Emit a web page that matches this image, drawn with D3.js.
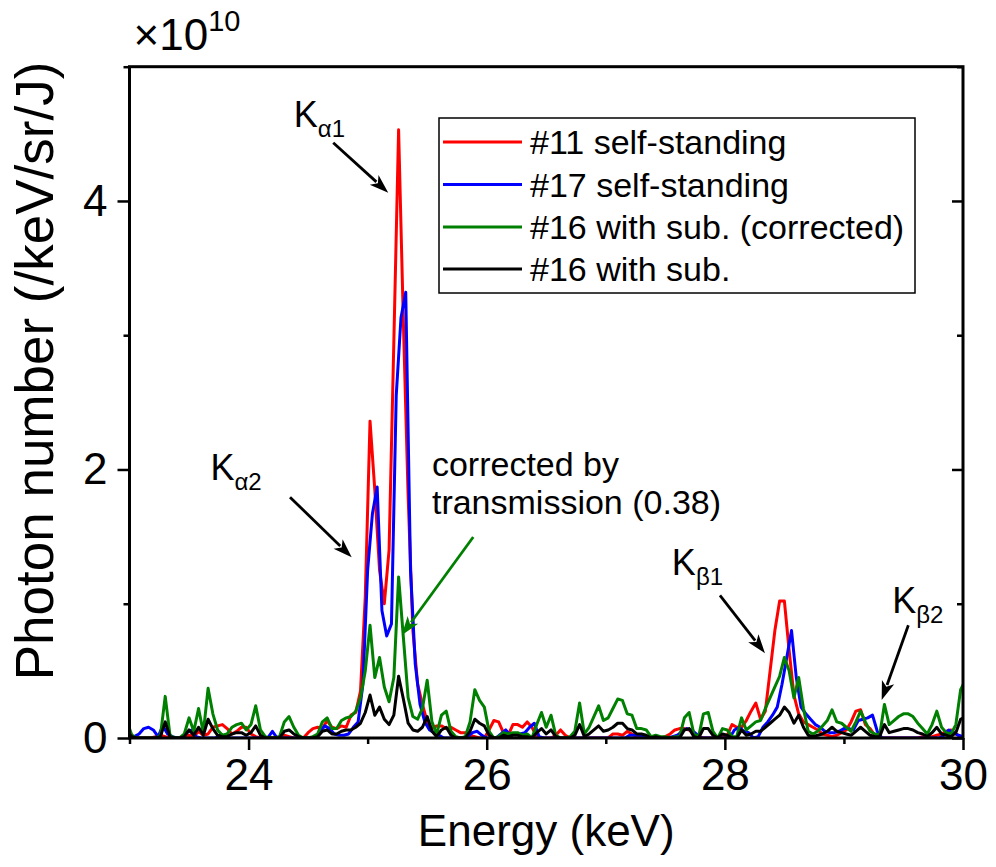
<!DOCTYPE html>
<html>
<head>
<meta charset="utf-8">
<script src="https://cdn.jsdelivr.net/npm/d3@7/dist/d3.min.js"></script>
<style>
  body { margin: 0; background: #fff; }
  svg { display: block; }
  text { font-family: "Liberation Sans", Arial, Helvetica, sans-serif; fill: #000; }
</style>
</head>
<body>
<svg id="chart" width="996" height="867"></svg>
<script>
// Detector channels: 0.04 keV bins. Spectrum #17 was binned 0.02 keV higher.
const channelStep = 0.04;
const channelStart = 22.98;
const channelStartS17 = 23.00;

// Photon number (x1e10 /keV/sr/J), one value per channel
const s11 = [
  0.03, 0.02, 0, 0, 0, 0, 0.01, 0.02, 0.01, 0, 0,
  0, 0.01, 0.02, 0.01, 0.05, 0.02, 0.03, 0.08, 0.09, 0.10,
  0.07, 0.03, 0.05, 0.08, 0.08, 0.03, 0.01, 0, 0, 0,
  0, 0.01, 0.02, 0.01, 0, 0, 0, 0.04, 0.07, 0.08,
  0.07, 0.13, 0.08, 0.07, 0.09, 0.08, 0.17, 0.19, 0.35, 1.05,
  2.36, 1.85, 1.25, 1.00, 1.40, 2.95, 4.53, 3.10, 1.80, 0.80,
  0.40, 0.25, 0.12, 0.07, 0.09, 0.09, 0.07, 0.08, 0.06, 0.04,
  0.04, 0.02, 0.01, 0, 0, 0.06, 0.13, 0.12, 0.04, 0.02,
  0.10, 0.10, 0.08, 0.12, 0.08, 0.01, 0, 0, 0, 0.02,
  0.06, 0.02, 0, 0, 0, 0, 0, 0, 0, 0,
  0, 0.03, 0.03, 0.02, 0.05, 0.03, 0.01, 0, 0, 0.01,
  0.01, 0, 0.01, 0.03, 0.06, 0.07, 0.07, 0.06, 0.03, 0.01,
  0, 0, 0, 0, 0.01, 0.02, 0.10, 0.08, 0.08, 0.13,
  0.20, 0.26, 0.14, 0.20, 0.50, 0.80, 1.02, 1.02, 0.65, 0.32,
  0.18, 0.12, 0.10, 0.08, 0.06, 0.03, 0.02, 0.01, 0.02, 0.04,
  0.06, 0.12, 0.20, 0.21, 0.10, 0.07, 0.02, 0, 0, 0,
  0, 0, 0, 0, 0, 0, 0.01, 0.01, 0.01, 0.02,
  0.03, 0.05, 0.06, 0.03, 0.01, 0
];

const s17 = [
  0, 0.01, 0.03, 0.07, 0.08, 0.06, 0.01, 0.09, 0.03, 0.01, 0,
  0, 0.04, 0.06, 0.01, 0, 0, 0, 0, 0.02, 0,
  0, 0, 0, 0, 0, 0, 0, 0, 0, 0.05,
  0, 0, 0, 0, 0, 0, 0, 0, 0, 0.05,
  0.09, 0.07, 0.03, 0.02, 0.02, 0.03, 0.08, 0.12, 0.40, 1.25,
  1.67, 1.87, 0.95, 0.76, 0.85, 2.55, 3.13, 3.32, 1.25, 0.55,
  0.25, 0.12, 0.06, 0.04, 0.02, 0, 0, 0, 0, 0,
  0.01, 0.04, 0.05, 0.02, 0, 0, 0, 0.03, 0.06, 0.02,
  0.03, 0.03, 0.04, 0.08, 0.11, 0.01, 0, 0, 0, 0,
  0, 0, 0, 0, 0, 0, 0, 0, 0, 0,
  0, 0, 0, 0, 0.02, 0.02, 0.02, 0.01, 0, 0,
  0, 0, 0, 0.01, 0.02, 0.05, 0.07, 0.06, 0.03, 0,
  0, 0, 0, 0, 0, 0, 0.06, 0.08, 0.05, 0.04,
  0, 0.01, 0.08, 0.12, 0.17, 0.23, 0.40, 0.60, 0.80, 0.45,
  0.23, 0.18, 0.14, 0.10, 0.08, 0.05, 0.04, 0.04, 0.05, 0.07,
  0.07, 0.06, 0.13, 0.14, 0.15, 0.17, 0.05, 0, 0, 0,
  0, 0, 0, 0, 0, 0, 0, 0, 0, 0,
  0.02, 0.06, 0.04, 0.02, 0.01, 0
];

const s16corrected = [
  0.12, 0.02, 0, 0, 0, 0, 0, 0.02, 0.31, 0.02, 0,
  0, 0.03, 0.15, 0.05, 0.22, 0.04, 0.37, 0.18, 0.06, 0.02,
  0.03, 0.08, 0.10, 0.11, 0.06, 0.10, 0.24, 0.06, 0.01, 0,
  0, 0.01, 0.12, 0.16, 0.08, 0.02, 0, 0, 0.01, 0.03,
  0.12, 0.15, 0.07, 0.07, 0.13, 0.15, 0.16, 0.20, 0.30, 0.50,
  0.84, 0.45, 0.60, 0.38, 0.27, 0.45, 1.20, 0.75, 0.30, 0.16,
  0.14, 0.22, 0.43, 0.12, 0.03, 0.17, 0.20, 0.05, 0.01, 0,
  0.01, 0.12, 0.36, 0.28, 0.23, 0.05, 0, 0.01, 0.04, 0.03,
  0.04, 0.04, 0.02, 0.03, 0, 0.10, 0.19, 0.08, 0.17, 0.02,
  0, 0, 0.01, 0.05, 0.26, 0.03, 0.08, 0.16, 0.24, 0.13,
  0.15, 0.22, 0.29, 0.28, 0.18, 0.17, 0.07, 0.07, 0.06, 0.01,
  0.02, 0.01, 0.01, 0, 0.01, 0.01, 0.15, 0.19, 0.03, 0.01,
  0.18, 0.19, 0.05, 0, 0.07, 0.06, 0.01, 0.01, 0.15, 0.06,
  0.09, 0.12, 0.13, 0.22, 0.30, 0.38, 0.46, 0.60, 0.50, 0.30,
  0.45, 0.22, 0.05, 0.03, 0.05, 0.09, 0.13, 0.21, 0.12, 0.11,
  0.08, 0.05, 0.12, 0.20, 0.12, 0.05, 0.03, 0.02, 0.25, 0.10,
  0.13, 0.16, 0.18, 0.18, 0.16, 0.11, 0.07, 0.03, 0.10, 0.20,
  0.08, 0.04, 0.03, 0.10, 0.36, 0.43
];

const s16 = [
  0.05, 0.01, 0, 0, 0, 0, 0, 0.01, 0.12, 0.01, 0,
  0, 0.01, 0.06, 0.02, 0.08, 0.02, 0.14, 0.07, 0.02, 0.01,
  0.01, 0.03, 0.04, 0.04, 0.02, 0.04, 0.09, 0.02, 0, 0,
  0, 0, 0.05, 0.06, 0.03, 0.01, 0, 0, 0, 0.01,
  0.05, 0.06, 0.03, 0.03, 0.05, 0.06, 0.06, 0.08, 0.11, 0.19,
  0.32, 0.17, 0.23, 0.14, 0.10, 0.17, 0.46, 0.29, 0.11, 0.06,
  0.05, 0.08, 0.16, 0.05, 0.01, 0.06, 0.08, 0.02, 0, 0,
  0, 0.05, 0.14, 0.11, 0.09, 0.02, 0, 0, 0.02, 0.01,
  0.02, 0.02, 0.01, 0.01, 0, 0.04, 0.07, 0.03, 0.06, 0.01,
  0, 0, 0, 0.02, 0.10, 0.01, 0.03, 0.06, 0.09, 0.05,
  0.06, 0.08, 0.11, 0.11, 0.07, 0.06, 0.03, 0.03, 0.02, 0,
  0.01, 0, 0, 0, 0, 0, 0.06, 0.07, 0.01, 0,
  0.07, 0.07, 0.02, 0, 0.03, 0.02, 0, 0, 0.06, 0.02,
  0.03, 0.05, 0.05, 0.08, 0.11, 0.14, 0.17, 0.23, 0.19, 0.11,
  0.17, 0.08, 0.02, 0.01, 0.02, 0.03, 0.05, 0.08, 0.05, 0.04,
  0.03, 0.02, 0.05, 0.08, 0.05, 0.02, 0.01, 0.01, 0.10, 0.04,
  0.05, 0.06, 0.07, 0.07, 0.06, 0.04, 0.03, 0.01, 0.04, 0.08,
  0.03, 0.02, 0.01, 0.04, 0.14, 0.16
];

const seriesNames = ["#11 self-standing", "#17 self-standing", "#16 with sub. (corrected)", "#16 with sub."];
const seriesColors = ["#ff0000", "#0000ff", "#008000", "#000000"];

const xMajorTicks = [24, 26, 28, 30];
const xMinorTicks = [23, 25, 27, 29];
const yMajorTicks = [0, 2, 4];
const yMinorTicks = [1, 3, 5];

// Emission-line labels and arrows, in data units (keV, x1e10)
const lineLabels = [
  { main: "K", sub: "\u03b11", e: 24.38, v: 4.55 },
  { main: "K", sub: "\u03b12", e: 23.68, v: 1.92 },
  { main: "K", sub: "\u03b21", e: 27.555, v: 1.215 },
  { main: "K", sub: "\u03b22", e: 29.405, v: 0.932 }
];
const arrows = [
  { from: [24.711, 4.433], to: [25.173, 4.062], color: "#000" },
  { from: [24.348, 1.794], to: [24.866, 1.346], color: "#000" },
  { from: [27.959, 1.063], to: [28.337, 0.632], color: "#000" },
  { from: [29.541, 0.840], to: [29.317, 0.283], color: "#000" },
  { from: [25.887, 1.497], to: [25.286, 0.766], color: "#008000" }
];
const noteLines = ["corrected by", "transmission (0.38)"];
const notePos = { e: 25.54, v: [1.948, 1.665] };

// ---- layout
const svg = d3.select("#chart");
const plot = { left: 129.5, right: 963, top: 66.7, bottom: 738 };

const x = d3.scaleLinear().domain([23, 30]).range([plot.left, plot.right]);
const y = d3.scaleLinear().domain([0, 5]).range([plot.bottom, plot.top]);

svg.append("defs").append("clipPath").attr("id", "plotClip")
  .append("rect")
  .attr("x", plot.left).attr("y", plot.top - 5)
  .attr("width", plot.right - plot.left).attr("height", plot.bottom - plot.top + 5);

// ---- spectra
const toPoints = (vals, start) => vals.map((v, i) => [start + i * channelStep, v]);
const spectra = [
  toPoints(s11, channelStart),
  toPoints(s17, channelStartS17),
  toPoints(s16corrected, channelStart),
  toPoints(s16, channelStart)
];

const line = d3.line().x(d => x(d[0])).y(d => y(d[1]));

svg.append("g").attr("clip-path", "url(#plotClip)")
  .selectAll("path").data(spectra).join("path")
  .attr("d", line)
  .attr("fill", "none")
  .attr("stroke", (d, i) => seriesColors[i])
  .attr("stroke-width", 3)
  .attr("stroke-linejoin", "round");

// ---- axes
const tickFont = 44;
function styleAxis(g) {
  g.select(".domain").remove();
  g.selectAll("line").attr("stroke", "#000").attr("stroke-width", 2.5);
  g.selectAll("text").attr("font-size", tickFont).attr("fill", "#000")
    .attr("font-family", '"Liberation Sans", Arial, sans-serif');
}

svg.append("g").attr("transform", `translate(0,${plot.bottom})`)
  .call(d3.axisBottom(x).tickValues(xMajorTicks).tickSize(12).tickPadding(9).tickFormat(d3.format("d")))
  .call(styleAxis);
svg.append("g").attr("transform", `translate(0,${plot.bottom})`)
  .call(d3.axisBottom(x).tickValues(xMinorTicks).tickSize(6).tickFormat(""))
  .call(styleAxis);

svg.append("g").attr("transform", `translate(${plot.left},0)`)
  .call(d3.axisLeft(y).tickValues(yMajorTicks).tickSize(12).tickPadding(10).tickFormat(d3.format("d")))
  .call(styleAxis);
svg.append("g").attr("transform", `translate(${plot.left},0)`)
  .call(d3.axisLeft(y).tickValues(yMinorTicks).tickSize(6).tickFormat(""))
  .call(styleAxis);

// right side: inward ticks, no labels
svg.append("g").attr("transform", `translate(${plot.right},0)`)
  .call(d3.axisLeft(y).tickValues(yMajorTicks).tickSize(11).tickFormat(""))
  .call(styleAxis);
svg.append("g").attr("transform", `translate(${plot.right},0)`)
  .call(d3.axisLeft(y).tickValues(yMinorTicks).tickSize(6).tickFormat(""))
  .call(styleAxis);

// frame
svg.append("rect")
  .attr("x", plot.left).attr("y", plot.top)
  .attr("width", plot.right - plot.left).attr("height", plot.bottom - plot.top)
  .attr("fill", "none").attr("stroke", "#000").attr("stroke-width", 3);

// multiplier
const mult = svg.append("text").attr("x", plot.left + 4).attr("y", 50).attr("font-size", 44);
mult.append("tspan").text("\u00d710");
mult.append("tspan").attr("font-size", 29).attr("dy", -19).text("10");

// axis titles
svg.append("text")
  .attr("x", (plot.left + plot.right) / 2).attr("y", 846)
  .attr("text-anchor", "middle").attr("font-size", 44)
  .text("Energy (keV)");
svg.append("text")
  .attr("transform", `translate(53,371) rotate(-90)`)
  .attr("text-anchor", "middle").attr("font-size", 53)
  .text("Photon number (/keV/sr/J)");

// ---- annotations
const labelG = svg.append("g");
lineLabels.forEach(l => {
  const t = labelG.append("text").attr("x", x(l.e)).attr("y", y(l.v)).attr("font-size", 36);
  t.append("tspan").text(l.main);
  t.append("tspan").attr("font-size", 24).attr("dy", 10).text(l.sub);
});

const arrowG = svg.append("g");
arrows.forEach(a => {
  const x0 = x(a.from[0]), y0 = y(a.from[1]);
  const x1 = x(a.to[0]), y1 = y(a.to[1]);
  const dx = x1 - x0, dy = y1 - y0, len = Math.hypot(dx, dy);
  const ux = dx / len, uy = dy / len;
  const headLen = 19, headHalf = 6.5;
  const bx = x1 - ux * headLen, by = y1 - uy * headLen;
  arrowG.append("line")
    .attr("x1", x0).attr("y1", y0).attr("x2", bx + ux * 3).attr("y2", by + uy * 3)
    .attr("stroke", a.color).attr("stroke-width", 2.8);
  arrowG.append("path")
    .attr("d", `M${x1},${y1}L${bx - uy * headHalf},${by + ux * headHalf}L${bx + ux * 5},${by + uy * 5}L${bx + uy * headHalf},${by - ux * headHalf}Z`)
    .attr("fill", a.color);
});

noteLines.forEach((s, i) => {
  svg.append("text").attr("x", x(notePos.e)).attr("y", y(notePos.v[i]))
    .attr("font-size", 34).text(s);
});

// ---- legend
const legend = { x: 439, y: 118, w: 476, h: 175, rowY: [142, 184.5, 227, 269], lineX: [443, 522], textX: 530 };
const lg = svg.append("g");
lg.append("rect").attr("x", legend.x).attr("y", legend.y).attr("width", legend.w).attr("height", legend.h)
  .attr("fill", "#fff").attr("stroke", "#000").attr("stroke-width", 1.5);
seriesNames.forEach((name, i) => {
  lg.append("line").attr("x1", legend.lineX[0]).attr("x2", legend.lineX[1])
    .attr("y1", legend.rowY[i]).attr("y2", legend.rowY[i])
    .attr("stroke", seriesColors[i]).attr("stroke-width", 3);
  lg.append("text").attr("x", legend.textX).attr("y", legend.rowY[i]).attr("dy", "0.36em")
    .attr("font-size", 34).text(name);
});
</script>
</body>
</html>
